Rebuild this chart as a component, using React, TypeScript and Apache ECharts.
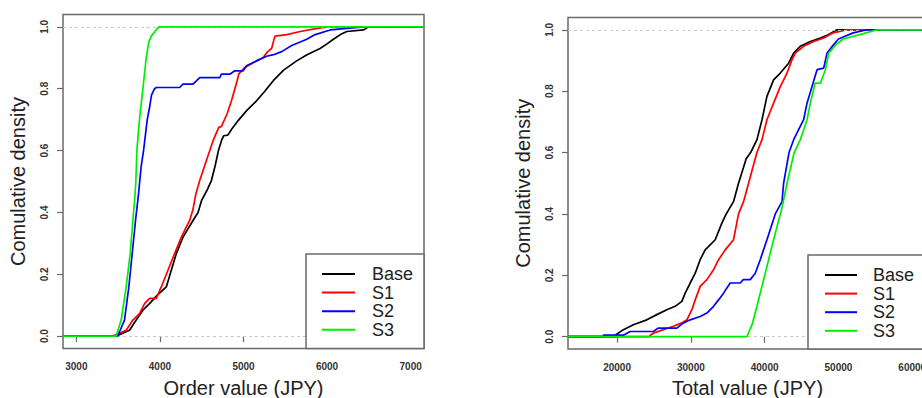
import React, { useEffect, useRef } from "react";
import * as echarts from "echarts";

const seriesNames = ["Base", "S1", "S2", "S3"];
const seriesColors = ["#000000", "#ff0000", "#0000ff", "#00ee00"];
const orderTicks = [3000, 4000, 5000, 6000, 7000];
const totalTicks = [20000, 30000, 40000, 50000, 60000];
const densityTicks = [0, 0.2, 0.4, 0.6, 0.8, 1.0];
const referenceLevels = [0, 1];

const orderBase = [
  [2840, 0], [3476, 0], [3560, 0.01], [3636, 0.019], [3716, 0.052], [3796, 0.084], [3876, 0.105],
  [3960, 0.13], [4076, 0.159], [4136, 0.213], [4196, 0.267], [4276, 0.32], [4396, 0.374], [4456, 0.4],
  [4500, 0.44], [4560, 0.47], [4616, 0.503], [4660, 0.55], [4700, 0.6], [4740, 0.635], [4764, 0.648],
  [4812, 0.65], [4860, 0.67], [4936, 0.697], [5040, 0.73], [5156, 0.761], [5250, 0.79], [5356, 0.826],
  [5480, 0.86], [5636, 0.89], [5760, 0.91], [5916, 0.93], [6000, 0.945], [6076, 0.96], [6160, 0.975],
  [6236, 0.985], [6436, 0.99], [6496, 1], [7160, 1],
];
const orderS1 = [
  [2840, 0], [3436, 0], [3520, 0.01], [3596, 0.019], [3676, 0.052], [3756, 0.073], [3816, 0.105],
  [3876, 0.122], [3956, 0.122], [4016, 0.159], [4096, 0.213], [4176, 0.267], [4256, 0.32], [4356, 0.374],
  [4396, 0.41], [4430, 0.46], [4476, 0.503], [4556, 0.568], [4636, 0.632], [4704, 0.675], [4736, 0.678],
  [4804, 0.719], [4856, 0.761], [4924, 0.826], [4944, 0.848], [5016, 0.869], [5156, 0.89], [5232, 0.9],
  [5290, 0.92], [5336, 0.93], [5376, 0.97], [5520, 0.975], [5676, 0.985], [5880, 0.995], [6012, 1],
  [7160, 1],
];
const orderS2 = [
  [2840, 0], [3492, 0], [3524, 0.019], [3576, 0.052], [3628, 0.159], [3668, 0.267], [3708, 0.374],
  [3740, 0.45], [3776, 0.55], [3804, 0.6], [3848, 0.7], [3876, 0.74], [3900, 0.78], [3936, 0.8],
  [3956, 0.804], [4236, 0.804], [4276, 0.815], [4396, 0.815], [4476, 0.836], [4716, 0.836], [4736, 0.847],
  [4836, 0.847], [4896, 0.858], [4996, 0.858], [5036, 0.874], [5156, 0.89], [5277, 0.905], [5360, 0.91],
  [5457, 0.92], [5577, 0.94], [5757, 0.96], [5857, 0.975], [6037, 0.99], [6237, 0.995], [6433, 1],
  [7160, 1],
];
const orderS3 = [
  [2840, 0], [3476, 0], [3536, 0.052], [3596, 0.159], [3644, 0.267], [3676, 0.374], [3700, 0.45],
  [3712, 0.5], [3724, 0.6], [3755, 0.7], [3796, 0.8], [3836, 0.9], [3866, 0.95], [3896, 0.97],
  [3940, 0.985], [3988, 1], [7160, 1],
];

const totalBase = [
  [13350, 0], [19730, 0], [19750, 0.005], [20860, 0.023], [22210, 0.039], [24030, 0.055], [25390, 0.072],
  [26740, 0.088], [27870, 0.099], [28780, 0.115], [29230, 0.142], [29910, 0.175], [30590, 0.207],
  [31260, 0.251], [31940, 0.283], [33300, 0.316], [34200, 0.37], [34790, 0.4], [35780, 0.44], [36460, 0.5],
  [37500, 0.58], [38100, 0.6], [38960, 0.642], [39640, 0.707], [40310, 0.783], [41210, 0.837],
  [42120, 0.859], [43250, 0.891], [43930, 0.924], [44830, 0.946], [46190, 0.962], [47550, 0.973],
  [48630, 0.984], [49800, 1], [62000, 1],
];
const totalS1 = [
  [13350, 0], [24480, 0], [24500, 0.005], [24980, 0.012], [26280, 0.023], [27640, 0.034], [28780, 0.045],
  [29460, 0.055], [30140, 0.088], [30590, 0.12], [31260, 0.164], [32170, 0.186], [33070, 0.218],
  [33750, 0.251], [34660, 0.283], [35780, 0.316], [36460, 0.4], [37140, 0.44], [37820, 0.5], [38950, 0.6],
  [39640, 0.642], [40310, 0.707], [41210, 0.761], [42120, 0.815], [43030, 0.859], [43700, 0.902],
  [44150, 0.924], [45280, 0.946], [46640, 0.962], [48000, 0.973], [49300, 0.99], [51170, 1], [62000, 1],
];
const totalS2 = [
  [13350, 0], [18140, 0], [18160, 0.005], [20860, 0.005], [21760, 0.017], [24930, 0.017], [25560, 0.028],
  [28100, 0.028], [29000, 0.045], [29910, 0.055], [31260, 0.066], [32170, 0.077], [33070, 0.099],
  [33750, 0.12], [34430, 0.142], [35330, 0.175], [36690, 0.175], [37100, 0.186], [38050, 0.186],
  [38730, 0.207], [39400, 0.251], [40310, 0.316], [41440, 0.4], [42350, 0.44], [42570, 0.5], [43300, 0.6],
  [43930, 0.642], [45280, 0.707], [45740, 0.761], [46420, 0.815], [47100, 0.87], [48000, 0.875],
  [48450, 0.924], [49300, 0.95], [50000, 0.97], [52000, 0.99], [53900, 1], [62000, 1],
];
const totalS3 = [
  [13350, 0], [37600, 0], [38300, 0.04], [38960, 0.1], [40080, 0.207], [41210, 0.316], [42350, 0.42],
  [43030, 0.5], [44000, 0.6], [44830, 0.642], [45740, 0.707], [46190, 0.761], [46730, 0.815],
  [46830, 0.826], [47550, 0.826], [48230, 0.87], [48680, 0.924], [49600, 0.95], [50660, 0.97],
  [53000, 0.985], [55240, 1], [62000, 1],
];

const orderSeries = [orderBase, orderS1, orderS2, orderS3];
const totalSeries = [totalBase, totalS1, totalS2, totalS3];

const FONT = '"Liberation Sans", Arial, sans-serif';
const BORDER = "#6a6a6a";
const TEXT = "#222";

export default function App() {
  const ref = useRef<HTMLDivElement>(null);
  useEffect(() => {
    const chart = echarts.init(ref.current!, null, { renderer: "svg" });

    const grids = [
      { left: 63, top: 14.5, width: 361, height: 334 },
      { left: 568, top: 17.5, width: 359, height: 331.5 },
    ];
    const xRanges = [
      [2840, 7160],
      [13350, 62000],
    ];
    const xTicks = [orderTicks, totalTicks];
    const xNames = ["Order value (JPY)", "Total value (JPY)"];

    const xAxis = [0, 1].map((i) => ({
      type: "value",
      gridIndex: i,
      min: xRanges[i][0],
      max: xRanges[i][1],
      name: xNames[i],
      nameLocation: "middle",
      nameGap: 29,
      nameMoveOverlap: false,
      nameTextStyle: { fontSize: 20, fontFamily: FONT, color: TEXT },
      axisLine: { show: false },
      splitLine: { show: false },
      axisTick: { show: true, length: 6, customValues: xTicks[i], lineStyle: { color: BORDER, width: 1.2 } },
      axisLabel: {
        customValues: xTicks[i],
        fontSize: 10,
        fontFamily: FONT,
        color: "#333",
        fontWeight: "bold",
        margin: 13,
        formatter: (v: number) => String(v),
      },
    }));

    const yAxis = [0, 1].map((i) => ({
      type: "value",
      gridIndex: i,
      min: -0.04,
      max: 1.04,
      name: "Comulative density",
      nameLocation: "middle",
      nameRotate: 90,
      nameGap: 35,
      nameMoveOverlap: false,
      nameTextStyle: { fontSize: 20, fontFamily: FONT, color: TEXT },
      axisLine: { show: false },
      splitLine: { show: false },
      axisTick: { show: true, length: 6, customValues: densityTicks, lineStyle: { color: BORDER, width: 1.2 } },
      axisLabel: {
        customValues: densityTicks,
        rotate: 90,
        fontSize: 10,
        fontFamily: FONT,
        color: "#333",
        fontWeight: "bold",
        margin: 14,
        formatter: (v: number) => v.toFixed(1),
      },
    }));

    const series: any[] = [];
    [0, 1].forEach((g) => {
      series.push({
        type: "line",
        name: "ref" + g,
        xAxisIndex: g,
        yAxisIndex: g,
        data: [],
        z: 1,
        silent: true,
        markLine: {
          silent: true,
          symbol: ["none", "none"],
          label: { show: false },
          lineStyle: { type: [3, 3], color: "#c8c8c8", width: 1 },
          data: referenceLevels.map((v) => ({ yAxis: v })),
        },
      });
      const src = g === 0 ? orderSeries : totalSeries;
      src.forEach((d, k) => {
        series.push({
          type: "line",
          name: seriesNames[k],
          xAxisIndex: g,
          yAxisIndex: g,
          data: d,
          showSymbol: false,
          z: 3 + k,
          lineStyle: { color: seriesColors[k], width: 1.7 },
          itemStyle: { color: seriesColors[k] },
        });
      });
    });

    const legendBoxes = [
      { x: 306, y: 254, w: 118, h: 94.5, lx1: 322, lx2: 355, tx: 372, ty: 274 },
      { x: 808, y: 255, w: 119, h: 94, lx1: 825, lx2: 857, tx: 873, ty: 275 },
    ];
    const graphic: any[] = [];
    legendBoxes.forEach((b) => {
      graphic.push({
        type: "rect",
        shape: { x: b.x, y: b.y, width: b.w, height: b.h },
        style: { fill: "#fff", stroke: BORDER, lineWidth: 1.5 },
        z: 100,
      });
      seriesNames.forEach((nm, k) => {
        const yy = b.ty + k * 18.6;
        graphic.push({
          type: "line",
          shape: { x1: b.lx1, y1: yy, x2: b.lx2, y2: yy },
          style: { stroke: seriesColors[k], lineWidth: 2 },
          z: 101,
        });
        graphic.push({
          type: "text",
          x: b.tx,
          y: yy,
          style: {
            text: nm,
            fontSize: 18,
            lineHeight: 18,
            fontFamily: FONT,
            fill: TEXT,
            verticalAlign: "middle",
          },
          z: 101,
        });
      });
    });

    chart.setOption({
      animation: false,
      backgroundColor: "#fff",
      grid: grids.map((g) => ({
        ...g,
        show: true,
        outerBoundsMode: "none",
        containLabel: false,
        borderColor: BORDER,
        borderWidth: 1.5,
        backgroundColor: "transparent",
      })),
      xAxis,
      yAxis,
      series,
      graphic,
    });
    return () => chart.dispose();
  }, []);
  return (
    <div style={{ position: "fixed", left: 0, top: 0, width: 922, height: 398, overflow: "hidden", background: "#fff" }}>
      <div ref={ref} style={{ width: 940, height: 398 }} />
    </div>
  );
}
